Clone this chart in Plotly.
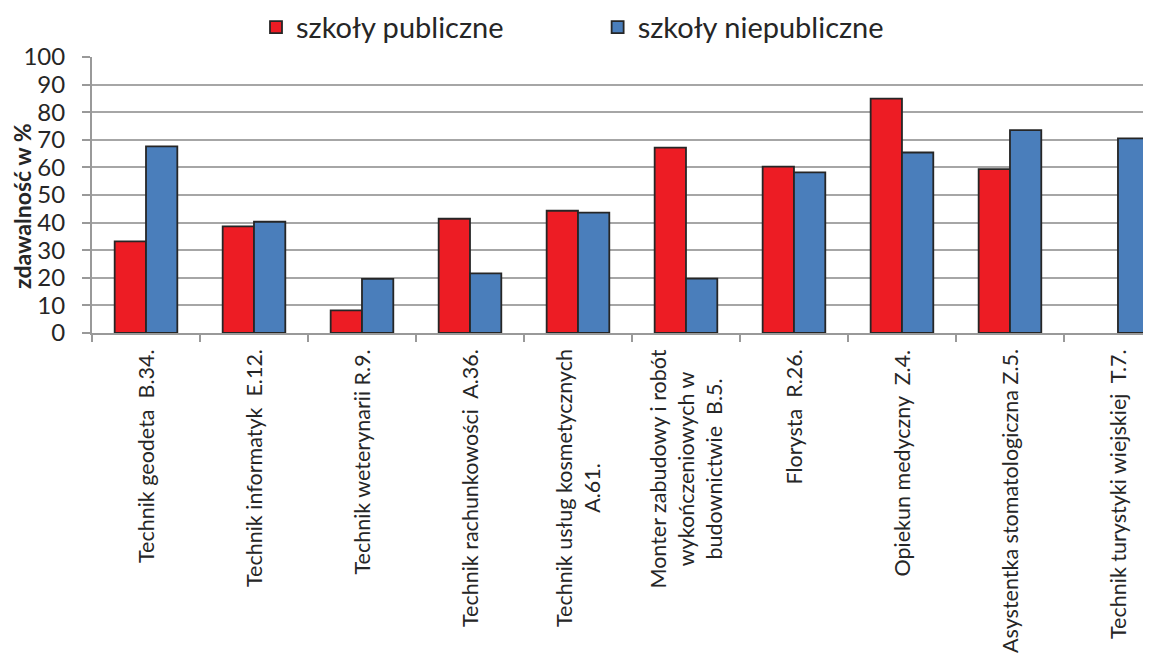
import plotly.graph_objects as go

zawody = [
    "Technik geodeta  B.34.",
    "Technik informatyk  E.12.",
    "Technik weterynarii R.9.",
    "Technik rachunkowości  A.36.",
    "Technik usług kosmetycznych<br>A.61.",
    "Monter zabudowy i robót<br>wykończeniowych w<br>budownictwie  B.5.",
    "Florysta  R.26.",
    "Opiekun medyczny  Z.4.",
    "Asystentka stomatologiczna Z.5.",
    "Technik turystyki wiejskiej  T.7.",
]
publiczne = [33.2, 38.6, 8.2, 41.4, 44.3, 67.2, 60.3, 84.9, 59.4, None]
niepubliczne = [67.6, 40.3, 19.6, 21.6, 43.6, 19.7, 58.2, 65.4, 73.5, 70.5]

FONT = "Lato"
TXT = "#262626"

fig = go.Figure()
fig.add_trace(go.Bar(x=zawody, y=publiczne, name="szkoły publiczne" + "\u00a0" * 12,
                     marker=dict(color="#ED1C24", line=dict(color="#262626", width=1.8))))
fig.add_trace(go.Bar(x=zawody, y=niepubliczne, name="szkoły niepubliczne",
                     marker=dict(color="#4A7EBB", line=dict(color="#262626", width=1.8))))

# rotated category labels, centred lines like the original
for z in zawody:
    fig.add_annotation(x=z, xref="x", y=0, yref="paper", yanchor="top", yshift=-14,
                       text=z, textangle=-90, showarrow=False, align="center",
                       font=dict(family=FONT, size=21.5, color=TXT))

# y axis title
fig.add_annotation(x=0, xref="paper", y=0.5, yref="paper", xanchor="center",
                   yanchor="middle", xshift=-70, yshift=-11,
                   text="<b>zdawalność w %</b>", textangle=-90, showarrow=False,
                   font=dict(family=FONT, size=23, color=TXT))

fig.update_layout(
    width=1151, height=660,
    margin=dict(l=84, r=0, t=49, b=335, autoexpand=False),
    plot_bgcolor="white", paper_bgcolor="white",
    font=dict(family=FONT, color=TXT),
    barmode="group", bargap=0.42, bargroupgap=0,
    legend=dict(orientation="h", x=248 / 1151, xanchor="left", xref="container",
                y=1.2, yanchor="top", yref="paper",
                font=dict(size=29, family=FONT, color=TXT), itemwidth=30,
                traceorder="normal"),
    xaxis=dict(range=[-0.5, 9.38], showticklabels=False, tickson="boundaries",
               ticks="outside", ticklen=7, tickcolor="#999999", tickwidth=1.5,
               showline=True, linecolor="#999999", linewidth=2, showgrid=False),
    yaxis=dict(range=[0, 100], dtick=10, showgrid=True, gridcolor="#A6A6A6", gridwidth=2,
               showline=True, linecolor="#999999", linewidth=2,
               ticks="outside", ticklen=8, tickcolor="#999999", tickwidth=1.5,
               ticklabelstandoff=12,
               tickfont=dict(size=24, family=FONT, color=TXT), zeroline=False),
)

fig.write_html("out.html")
